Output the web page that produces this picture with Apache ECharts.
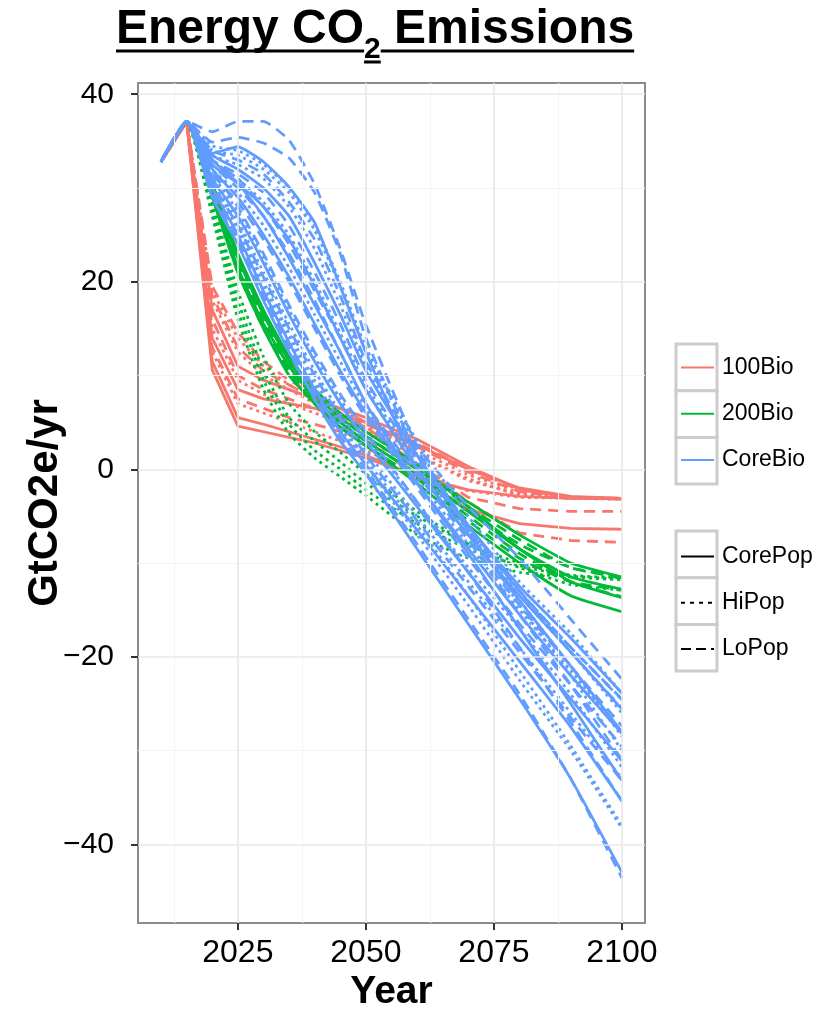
<!DOCTYPE html>
<html>
<head>
<meta charset="utf-8">
<script src="https://cdn.jsdelivr.net/npm/echarts@6/dist/echarts.min.js"></script>
<style>
  html, body { margin: 0; padding: 0; background: #fff; }
  #chart { width: 824px; height: 1009px; }
</style>
</head>
<body>
<div id="chart"></div>
<script>
// years of the scenario runs
const years = [2010, 2015, 2020, 2025, 2030, 2035, 2040, 2045, 2050, 2060, 2070, 2080, 2090, 2100];
// shared historical values (2010, 2015)
const history = [32.8, 37.1];

// 100Bio scenarios (2020 .. 2100)
const redLines = [
  [10.6, 4.6, 4.0, 3.4, 2.8, 2.0, 1.2, -0.8, -2.2, -2.9, -3.1, -3.1],
  [11.5, 5.5, 4.8, 4.0, 3.2, 2.4, 1.5, -0.8, -4.3, -5.8, -6.3, -6.4],
  [14.0, 8.5, 7.5, 7.0, 6.5, 5.8, 5.0, 2.6, 0.0, -2.0, -2.9, -3.1],
  [17.0, 11.0, 9.5, 8.5, 7.5, 6.5, 5.5, 3.2, 0.3, -2.1, -3.0, -3.2],
  [12.5, 7.0, 6.0, 5.0, 4.0, 3.0, 2.0, -0.5, -2.3, -3.0, -3.1, -3.1],
  [15.0, 9.5, 8.0, 7.0, 6.0, 5.0, 4.0, 1.5, -1.2, -2.7, -3.1, -3.1],
  [18.0, 12.5, 10.0, 8.5, 7.0, 5.5, 4.0, 1.5, -1.0, -2.8, -3.1, -3.2],
  [19.0, 14.0, 11.0, 9.0, 7.5, 6.0, 4.5, 2.0, -0.6, -2.5, -3.0, -3.1],
  [13.0, 7.5, 6.5, 5.5, 4.8, 4.0, 3.0, 0.6, -3.0, -4.2, -4.5, -4.5],
  [16.0, 10.0, 8.5, 7.5, 6.5, 5.5, 4.5, 0.5, -3.5, -6.8, -7.6, -7.8],
  [18.5, 13.0, 10.5, 9.0, 7.5, 6.0, 4.8, 2.4, -0.3, -2.4, -3.0, -3.1],
  [19.5, 14.6, 11.5, 9.5, 8.0, 6.5, 5.0, 2.8, 0.0, -2.2, -3.0, -3.1]
];
const redTypes = ['CorePop', 'CorePop', 'CorePop', 'CorePop', 'HiPop', 'HiPop', 'HiPop', 'HiPop', 'LoPop', 'LoPop', 'LoPop', 'LoPop'];

// 200Bio scenarios
const greenLines = [
  [30.0, 22.5, 16.5, 11.5, 8.0, 5.5, 3.5, 0.0, -3.5, -7.0, -10.0, -11.5],
  [29.5, 21.5, 15.5, 11.0, 7.5, 5.0, 3.0, -0.5, -4.5, -8.5, -11.5, -12.8],
  [30.5, 23.0, 17.0, 12.0, 8.5, 6.0, 4.0, 0.5, -4.0, -8.5, -12.0, -13.7],
  [29.0, 21.0, 15.0, 10.0, 7.0, 4.5, 2.5, -1.5, -6.0, -10.0, -13.5, -15.2],
  [28.0, 18.0, 10.5, 5.5, 3.0, 0.8, -1.5, -5.0, -8.0, -10.0, -11.3, -11.6],
  [27.5, 17.0, 9.5, 4.8, 2.0, 0.0, -2.2, -5.8, -8.5, -10.3, -11.4, -11.7],
  [28.5, 19.0, 12.0, 7.0, 4.0, 1.8, -0.5, -4.5, -8.0, -10.5, -12.3, -12.9],
  [27.0, 16.0, 8.5, 3.8, 1.2, -0.8, -2.8, -7.0, -9.5, -11.0, -11.5, -11.8],
  [30.0, 22.0, 16.0, 11.0, 7.5, 5.0, 3.0, -0.5, -4.5, -8.0, -10.5, -11.5],
  [29.5, 21.5, 15.5, 10.5, 7.0, 4.5, 2.5, -1.0, -5.0, -9.0, -12.0, -13.6],
  [30.5, 22.5, 16.5, 11.5, 8.0, 5.5, 3.5, 0.0, -4.0, -7.5, -10.5, -11.6],
  [29.0, 21.0, 15.0, 10.5, 7.0, 4.5, 2.5, -1.0, -5.5, -9.5, -12.0, -12.9]
];
const greenTypes = ['CorePop', 'CorePop', 'CorePop', 'CorePop', 'HiPop', 'HiPop', 'HiPop', 'HiPop', 'LoPop', 'LoPop', 'LoPop', 'LoPop'];

// CoreBio scenarios
const blueLines = [
  [36.0, 37.1, 37.1, 35.1, 30.4, 23.5, 15.4, 2.5, -4.0, -9.5, -16.0, -22.4],
  [34.9, 35.4, 34.8, 33.2, 29.5, 23.0, 14.0, 1.5, -6.0, -13.0, -19.5, -25.5],
  [33.7, 34.4, 32.8, 30.1, 26.3, 19.5, 12.5, 0.0, -7.0, -14.0, -21.0, -28.0],
  [29.0, 24.0, 18.0, 12.5, 7.5, 3.0, -0.5, -8.5, -16.5, -24.5, -33.0, -43.0],
  [29.5, 24.5, 18.5, 13.0, 8.0, 3.5, 0.0, -8.0, -16.0, -24.0, -33.0, -43.6],
  [30.0, 25.5, 19.5, 14.0, 9.0, 4.5, 0.5, -7.0, -14.5, -22.5, -30.0, -38.3],
  [30.0, 25.0, 19.0, 13.5, 8.5, 4.0, 0.5, -6.5, -13.5, -20.5, -27.5, -35.4],
  [30.5, 26.0, 20.5, 15.0, 10.0, 5.5, 1.5, -5.5, -12.5, -19.5, -26.5, -33.2],
  [31.0, 26.5, 21.0, 15.5, 10.5, 6.0, 2.0, -5.0, -12.0, -19.0, -26.0, -33.0],
  [31.0, 27.0, 22.0, 16.5, 11.5, 7.0, 3.0, -4.0, -11.0, -18.0, -24.5, -31.1],
  [31.5, 27.5, 22.5, 17.0, 12.0, 7.5, 3.5, -3.5, -10.5, -17.0, -24.0, -31.8],
  [31.5, 28.5, 24.5, 20.0, 15.0, 10.0, 5.5, -2.0, -9.5, -16.5, -23.0, -29.6],
  [32.0, 29.0, 25.0, 20.5, 15.5, 10.5, 6.0, -1.5, -8.5, -15.5, -22.0, -28.2],
  [32.0, 29.5, 26.0, 21.5, 16.5, 11.5, 6.5, -1.0, -8.0, -15.0, -21.5, -28.0],
  [32.5, 30.0, 27.0, 23.0, 18.0, 12.5, 7.0, -0.5, -7.5, -14.5, -21.0, -27.4],
  [32.5, 30.5, 28.0, 24.5, 19.5, 14.0, 8.5, 0.0, -7.0, -13.5, -19.5, -25.6],
  [33.0, 31.0, 28.5, 25.0, 20.0, 14.5, 9.0, 0.5, -6.5, -13.5, -19.5, -26.0],
  [33.0, 31.5, 29.5, 26.0, 21.0, 15.5, 9.5, 1.0, -6.5, -13.0, -19.0, -24.6],
  [33.5, 32.0, 30.0, 27.0, 22.0, 16.5, 10.5, 1.5, -6.0, -12.5, -18.0, -23.9],
  [33.5, 32.5, 31.0, 28.0, 23.5, 17.5, 11.0, 1.5, -6.5, -14.0, -21.0, -28.5],
  [34.0, 33.0, 31.5, 28.5, 24.5, 18.5, 11.5, 2.0, -6.0, -13.0, -19.0, -24.5],
  [34.0, 33.5, 32.0, 29.5, 25.5, 19.5, 12.5, 2.5, -6.5, -14.5, -22.0, -30.0],
  [33.0, 30.5, 27.0, 22.5, 17.5, 12.5, 7.0, -1.5, -9.0, -17.0, -25.0, -33.2],
  [32.0, 28.0, 23.0, 17.5, 12.5, 8.0, 4.0, -3.5, -11.0, -19.0, -27.0, -35.4],
  [34.5, 34.0, 32.5, 30.0, 26.0, 20.0, 13.0, 3.0, -5.0, -12.0, -17.5, -23.9],
  [30.5, 26.0, 20.0, 14.5, 9.5, 5.0, 1.0, -6.0, -13.5, -21.5, -29.5, -38.0],
  [33.0, 31.0, 28.0, 24.0, 19.0, 14.0, 8.5, 0.0, -7.5, -15.5, -23.0, -31.0]
];
const blueTypes = ['LoPop', 'LoPop', 'CorePop', 'CorePop', 'LoPop', 'HiPop', 'CorePop', 'LoPop', 'HiPop',
  'CorePop', 'HiPop', 'LoPop', 'CorePop', 'HiPop', 'LoPop', 'CorePop', 'HiPop', 'LoPop', 'CorePop',
  'HiPop', 'LoPop', 'HiPop', 'CorePop', 'LoPop', 'HiPop', 'HiPop', 'LoPop'];

// axis breaks
const xMajor = [2025, 2050, 2075, 2100];
const xMinor = [2012.5, 2037.5, 2062.5, 2087.5];
const yMajor = [-40, -20, 0, 20, 40];
const yMinor = [-30, -10, 10, 30];

const bioNames = ['100Bio', '200Bio', 'CoreBio'];
const popNames = ['CorePop', 'HiPop', 'LoPop'];

const colors = { '100Bio': '#F8766D', '200Bio': '#00BA38', 'CoreBio': '#619CFF' };
const dash = { CorePop: 'solid', HiPop: [3, 4], LoPop: [11, 7] };
const FONT = 'Liberation Sans, Arial, sans-serif';

const chart = echarts.init(document.getElementById('chart'), null, { renderer: 'canvas' });

const series = [];

// panel grid lines
series.push({
  name: 'gridMinor', type: 'line', data: [], silent: true, z: 1,
  markLine: {
    silent: true, animation: false, symbol: ['none', 'none'], label: { show: false },
    lineStyle: { color: '#f4f4f4', width: 1, type: 'solid' },
    data: xMinor.map(v => ({ xAxis: v })).concat(yMinor.map(v => ({ yAxis: v })))
  }
});
series.push({
  name: 'gridMajor', type: 'line', data: [], silent: true, z: 1,
  markLine: {
    silent: true, animation: false, symbol: ['none', 'none'], label: { show: false },
    lineStyle: { color: '#e8e8e8', width: 1.6, type: 'solid' },
    data: xMajor.map(v => ({ xAxis: v })).concat(yMajor.map(v => ({ yAxis: v })))
  }
});

function addGroup(lines, types, bio, smooth) {
  lines.forEach((vals, i) => {
    const ys = history.concat(vals);
    series.push({
      name: bio + '-' + (i + 1),
      type: 'line',
      data: years.map((yr, k) => [yr, ys[k]]),
      symbol: 'none',
      silent: true,
      smooth: smooth,
      z: 2,
      lineStyle: { color: colors[bio], width: 2.8, type: dash[types[i]], cap: 'butt', join: 'round' }
    });
  });
}
addGroup(redLines, redTypes, '100Bio', false);
addGroup(greenLines, greenTypes, '200Bio', 0.15);
addGroup(blueLines, blueTypes, 'CoreBio', 0.15);

// legend-only series
bioNames.forEach(n => series.push({
  name: n, type: 'line', data: [], symbol: 'none', color: colors[n],
  itemStyle: { opacity: 0 },
  lineStyle: { color: colors[n], width: 3, type: 'solid' }
}));
popNames.forEach(n => series.push({
  name: n, type: 'line', data: [], symbol: 'none', color: '#000',
  itemStyle: { opacity: 0 },
  lineStyle: { color: '#000', width: 3, type: n === 'HiPop' ? [4, 5] : (n === 'LoPop' ? [10, 5] : 'solid') }
}));

const legendBase = {
  orient: 'vertical', left: 680, padding: 0, itemWidth: 33, itemHeight: 14, itemGap: 23.2,
  selectedMode: false,
  itemStyle: { opacity: 0 },
  textStyle: { fontSize: 23, color: '#000', fontFamily: FONT, padding: [0, 0, 0, 3] }
};

// title pieces measured so the underline follows the text
const TITLE_LEFT = 116, TITLE_TOP = 13, T_MAIN = 48, T_SUB = 30;
const mctx = document.createElement('canvas').getContext('2d');
mctx.font = 'bold ' + T_MAIN + 'px Liberation Sans';
const w1 = mctx.measureText('Energy CO').width;
const w3 = mctx.measureText(' Emissions').width;
mctx.font = 'bold ' + T_SUB + 'px Liberation Sans';
const w2 = mctx.measureText('2').width;

// key boxes drawn behind legend glyphs
const graphics = [];
[344, 531].forEach(top => {
  for (let i = 0; i < 3; i++) {
    graphics.push({
      type: 'rect', z: -1, silent: true,
      shape: { x: 676, y: top + i * 46.7, width: 41, height: 46.7 },
      style: { fill: '#fff', stroke: '#cccccc', lineWidth: 3 }
    });
  }
});
// title underlines
const u1 = TITLE_LEFT, u2 = u1 + w1, u3 = u2 + w2, u4 = u3 + w3;
graphics.push({ type: 'line', silent: true, shape: { x1: u1, y1: 51, x2: u2, y2: 51 }, style: { stroke: '#000', lineWidth: 3 } });
graphics.push({ type: 'line', silent: true, shape: { x1: u2, y1: 62, x2: u3, y2: 62 }, style: { stroke: '#000', lineWidth: 3 } });
graphics.push({ type: 'line', silent: true, shape: { x1: u3, y1: 51, x2: u4, y2: 51 }, style: { stroke: '#000', lineWidth: 3 } });

const option = {
  animation: false,
  backgroundColor: '#fff',
  title: {
    text: '{a|Energy CO}{s|2}{a| Emissions}',
    left: TITLE_LEFT, top: TITLE_TOP, padding: 0,
    textStyle: {
      rich: {
        a: { fontSize: T_MAIN, fontWeight: 'bold', fontFamily: FONT, color: '#000', lineHeight: 52, verticalAlign: 'bottom', padding: [0, 0, 11, 0] },
        s: { fontSize: T_SUB, fontWeight: 'bold', fontFamily: FONT, color: '#000', lineHeight: 31, verticalAlign: 'bottom' }
      }
    }
  },
  grid: {
    left: 138, right: 179, top: 83, bottom: 86,
    outerBoundsMode: 'none', containLabel: false,
    show: true, borderColor: '#8c8c8c', borderWidth: 2, backgroundColor: '#fff'
  },
  xAxis: {
    type: 'value', min: 2005.5, max: 2104.5,
    splitLine: { show: false },
    axisLine: { show: false, onZero: false },
    axisTick: { show: true, customValues: xMajor, length: 7, lineStyle: { color: '#333', width: 2 } },
    axisLabel: { customValues: xMajor, formatter: v => String(v), fontSize: 32, color: '#000', fontFamily: FONT, margin: 14 },
    name: 'Year', nameLocation: 'middle', nameGap: 50, nameMoveOverlap: false,
    nameTextStyle: { fontSize: 39, fontWeight: 'bold', color: '#000', fontFamily: FONT }
  },
  yAxis: {
    type: 'value', min: -48.4, max: 41.2,
    splitLine: { show: false },
    axisLine: { show: false, onZero: false },
    axisTick: { show: true, customValues: yMajor, length: 7, lineStyle: { color: '#333', width: 2 } },
    axisLabel: { customValues: yMajor, formatter: v => String(v).replace('-', '\u2212'), fontSize: 30, color: '#000', fontFamily: FONT, margin: 24 },
    name: 'GtCO2e/yr', nameLocation: 'middle', nameGap: 72, nameRotate: 90, nameMoveOverlap: false,
    nameTextStyle: { fontSize: 42, fontWeight: 'bold', color: '#000', fontFamily: FONT }
  },
  legend: [
    Object.assign({}, legendBase, { top: 356, data: bioNames }),
    Object.assign({}, legendBase, { top: 545, data: popNames })
  ],
  graphic: graphics,
  series: series
};

chart.setOption(option);
</script>
</body>
</html>
